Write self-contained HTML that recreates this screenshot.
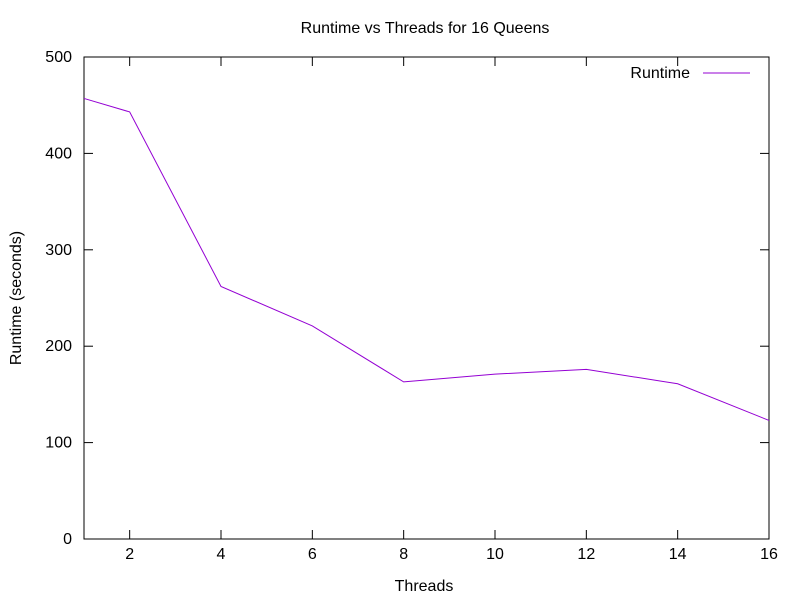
<!DOCTYPE html>
<html><head><meta charset="utf-8"><style>
body{margin:0;background:#fff;}
svg text{font-family:"Liberation Sans",sans-serif;font-size:16px;fill:#000;}
</style></head><body>
<svg id="chart" width="800" height="600">
<rect width="800" height="600" fill="#fff"/>
<text x="425" y="33" text-anchor="middle">Runtime vs Threads for 16 Queens</text>
<text x="424" y="591" text-anchor="middle">Threads</text>
<text transform="translate(21,298) rotate(-90)" text-anchor="middle">Runtime (seconds)</text>
<g id="axes"></g>
<g id="series"></g>
<g>
<text x="690" y="78" text-anchor="end">Runtime</text>
<line x1="703" y1="73" x2="750" y2="73" stroke="#9400d3" stroke-width="1"/>
</g>
</svg>
<script>
const threads=[1,2,4,6,8,10,12,14,16];
const runtimes=[457,443,262,221,163,171,176,161,123];
const xTicks=[2,4,6,8,10,12,14,16];
const yTicks=[0,100,200,300,400,500];
const L=84,R=769,T=57,B=539,xmin=1,xmax=16,ymin=0,ymax=500;
const xs=v=>L+(v-xmin)/(xmax-xmin)*(R-L);
const ys=v=>B-(v-ymin)/(ymax-ymin)*(B-T);
const NS="http://www.w3.org/2000/svg";
const axes=document.getElementById('axes');
function mk(tag,attrs,parent){const e=document.createElementNS(NS,tag);for(const k in attrs)e.setAttribute(k,attrs[k]);parent.appendChild(e);return e;}
const frame=mk('rect',{x:L,y:T,width:R-L,height:B-T,fill:'none',stroke:'#000','stroke-width':1},axes);


yTicks.forEach(v=>{const y=ys(v);
mk('line',{x1:L,y1:y,x2:L+9,y2:y,stroke:'#000'},axes);
mk('line',{x1:R,y1:y,x2:R-9,y2:y,stroke:'#000'},axes);
const t=mk('text',{x:L-12,y:y+5,'text-anchor':'end'},axes);t.textContent=v;

});
xTicks.forEach(v=>{const x=xs(v);
mk('line',{x1:x,y1:B,x2:x,y2:B-9,stroke:'#000'},axes);
mk('line',{x1:x,y1:T,x2:x,y2:T+9,stroke:'#000'},axes);
const t=mk('text',{x:x,y:B+20,'text-anchor':'middle'},axes);t.textContent=v;

});
const pts=threads.map((t,i)=>xs(t)+','+ys(runtimes[i])).join(' ');
const pl=mk('polyline',{points:pts,fill:'none',stroke:'#9400d3','stroke-width':1},document.getElementById('series'));


</script>
</body></html>
